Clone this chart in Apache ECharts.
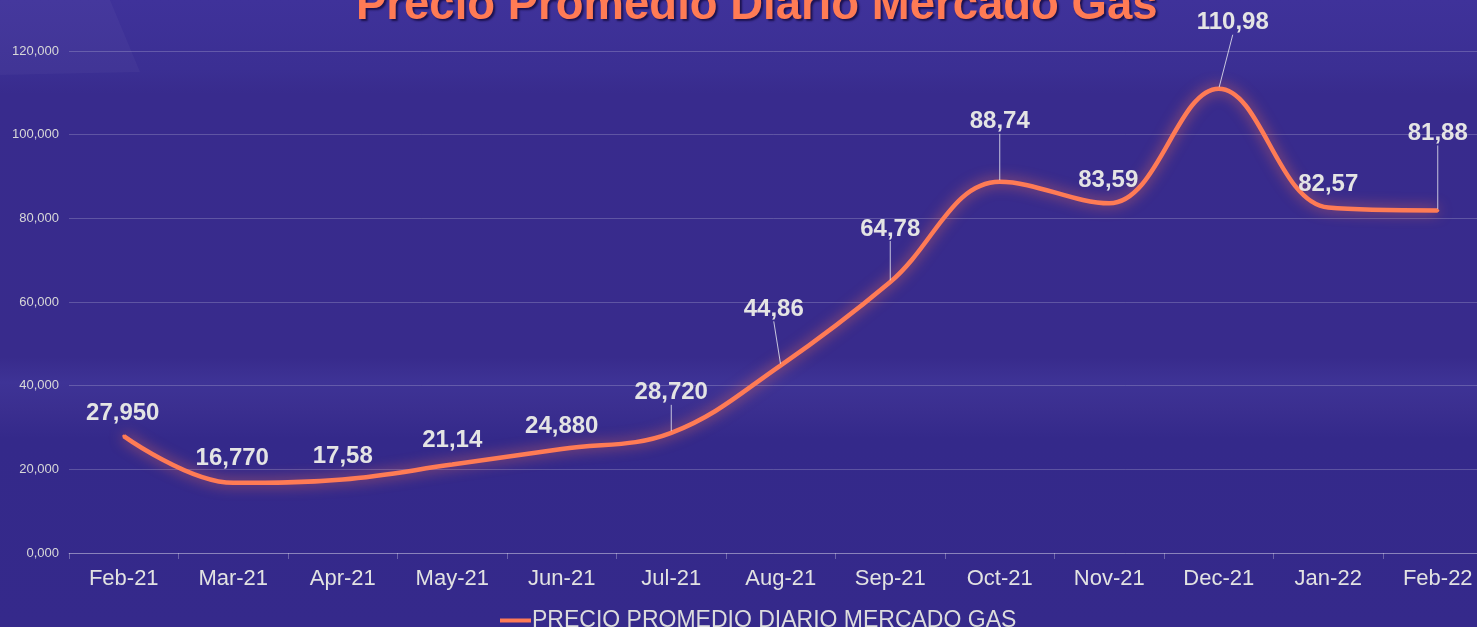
<!DOCTYPE html>
<html>
<head>
<meta charset="utf-8">
<script src="https://cdn.jsdelivr.net/npm/echarts@6/dist/echarts.min.js"></script>
<style>
html,body{margin:0;padding:0;background:#372a8c;}
#c{width:1477px;height:627px;}
</style>
</head>
<body>
<div id="c"></div>
<script>
var categories = ['Feb-21','Mar-21','Apr-21','May-21','Jun-21','Jul-21','Aug-21','Sep-21','Oct-21','Nov-21','Dec-21','Jan-22','Feb-22'];
var values = [27.95, 16.77, 17.58, 21.14, 24.88, 28.72, 44.86, 64.78, 88.74, 83.59, 110.98, 82.57, 81.88];
var valueLabels = ['27,950','16,770','17,58','21,14','24,880','28,720','44,86','64,78','88,74','83,59','110,98','82,57','81,88'];
var seriesName = 'PRECIO PROMEDIO DIARIO MERCADO GAS';
var titleText = 'Precio Promedio Diario Mercado Gas';

// label placement (offsets from the point, in px) and which labels get a leader line
var labelDX = [-1, -1, 0, 0, 0, 0, -7, 0, 0, -1, 14, 0, 0];
var labelDY = [-23, -24, -23, -24, -23, -40, -56, -53, -60, -23, -66, -23, -77];
var leader = [false, false, false, false, false, true, true, true, true, false, true, false, true];

var chart = echarts.init(document.getElementById('c'), null, {renderer: 'canvas'});

var data = values.map(function (v, i) {
  return {
    value: v,
    labelLine: { show: leader[i] }
  };
});

var option = {
  backgroundColor: {
    type: 'linear', x: 0, y: 0, x2: 0, y2: 1,
    colorStops: [
      {offset: 0, color: '#3f329a'},
      {offset: 0.11, color: '#3b2f93'},
      {offset: 0.15, color: '#382b8d'},
      {offset: 0.57, color: '#382b8c'},
      {offset: 0.61, color: '#3e3396'},
      {offset: 0.65, color: '#3b2f90'},
      {offset: 0.70, color: '#34298a'},
      {offset: 1, color: '#35298b'}
    ]
  },
  graphic: [{
    type: 'polygon',
    silent: true,
    z: -1,
    shape: { points: [[0, 0], [110, 0], [140, 72], [0, 75]] },
    style: { fill: 'rgba(255,255,255,0.03)' }
  }],
  title: {
    text: titleText,
    left: 351,
    top: -22,
    textStyle: {
      color: '#ff7b55',
      fontFamily: 'Liberation Sans Narrow, Liberation Sans, Arial, sans-serif',
      fontWeight: 'bold',
      fontSize: 45.5,
      textShadowColor: 'rgba(20,10,60,0.8)',
      textShadowOffsetX: 2,
      textShadowOffsetY: 2,
      textShadowBlur: 2
    }
  },
  legend: {
    data: [seriesName],
    left: 495,
    top: 604,
    icon: 'rect',
    itemWidth: 31,
    itemHeight: 4,
    itemGap: 0,
    textStyle: {
      color: '#dcdcdc',
      fontSize: 23,
      fontFamily: 'Liberation Sans, Arial, sans-serif',
      padding: [0, 0, 0, -4]
    }
  },
  grid: {
    left: 69,
    right: -15.5,
    top: 51,
    bottom: 74,
    containLabel: false,
    outerBoundsMode: 'none'
  },
  xAxis: {
    type: 'category',
    data: categories,
    boundaryGap: true,
    axisLine: { show: true, lineStyle: { color: 'rgba(255,255,255,0.28)', width: 1 } },
    axisTick: { show: true, length: 6, lineStyle: { color: 'rgba(255,255,255,0.28)' } },
    axisLabel: {
      color: '#e2e2e2',
      fontSize: 22,
      margin: 15,
      fontFamily: 'Liberation Sans, Arial, sans-serif'
    },
    splitLine: { show: false }
  },
  yAxis: {
    type: 'value',
    min: 0,
    max: 120,
    interval: 20,
    axisLine: { show: false },
    axisTick: { show: false },
    axisLabel: {
      color: '#d8d8d8',
      fontSize: 13,
      margin: 10,
      fontFamily: 'Liberation Sans, Arial, sans-serif',
      formatter: function (v) { return v.toFixed(3).replace('.', ','); }
    },
    splitLine: { show: true, lineStyle: { color: 'rgba(255,255,255,0.2)', width: 1 } }
  },
  series: [{
    name: seriesName,
    type: 'line',
    data: data,
    smooth: 0.38,
    symbol: 'circle',
    symbolSize: 3,
    showSymbol: true,
    itemStyle: { color: '#ff7b55' },
    lineStyle: {
      color: '#ff7b55',
      width: 4.5,
      shadowColor: 'rgba(255,120,80,0.75)',
      shadowBlur: 14
    },
    label: {
      show: true,
      position: 'inside',
      color: '#e4e4e4',
      fontSize: 24,
      fontWeight: 'bold',
      fontFamily: 'Liberation Sans, Arial, sans-serif',
      formatter: function (p) { return valueLabels[p.dataIndex]; }
    },
    labelLine: {
      show: false,
      lineStyle: { color: 'rgba(225,225,235,0.85)', width: 1 }
    },
    labelLayout: function (p) {
      var i = p.dataIndex;
      return { dx: labelDX[i], dy: labelDY[i] };
    },
    emphasis: { disabled: true },
    animation: false
  }],
  animation: false
};
chart.setOption(option);
</script>
</body>
</html>
